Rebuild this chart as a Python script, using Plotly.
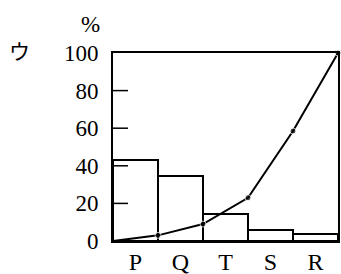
import plotly.graph_objects as go

categories = ["P", "Q", "T", "S", "R"]
bar_values = [43, 34.5, 14.5, 6, 3.8]
cum_values = [0, 3, 9, 23, 58.5, 100]
y_ticks = [0, 20, 40, 60, 80, 100]

W, H = 341, 274
L, R, T, B = 113, 3, 53, 33
pw, ph = W - L - R, H - T - B
TICK_LEN = 15  # px, drawn inside the plot

def px_x(px):
    return (px - L) / pw

def px_y(py):
    return (H - B - py) / ph

bar_x = [i + 0.5 for i in range(len(categories))]
line_x = list(range(len(cum_values)))

fig = go.Figure()
fig.add_trace(go.Bar(
    x=bar_x, y=bar_values, width=1,
    marker=dict(color="white", line=dict(color="black", width=2)),
    showlegend=False, hoverinfo="skip",
))
fig.add_trace(go.Scatter(
    x=line_x, y=cum_values, mode="lines+markers",
    line=dict(color="black", width=2),
    marker=dict(color="black", size=[0, 6, 6, 6, 6, 6]),
    cliponaxis=False, showlegend=False,
))

# inward tick marks on the left axis, one per tick value
for v in y_ticks[1:-1]:
    fig.add_shape(type="line", xref="paper", yref="y",
                  x0=0, x1=TICK_LEN / pw, y0=v, y1=v,
                  line=dict(color="black", width=1.5), layer="above")

yfont = dict(family="Liberation Serif", size=23, color="black")
xfont = dict(family="Liberation Serif", size=24, color="black")

fig.update_layout(
    width=W, height=H,
    margin=dict(l=L, r=R, t=T, b=B, pad=0, autoexpand=False),
    paper_bgcolor="white", plot_bgcolor="white",
    bargap=0,
    font=yfont,
    xaxis=dict(
        range=[0, 5], tickvals=bar_x, ticktext=categories,
        showgrid=False, zeroline=False, showline=True, mirror=True,
        linecolor="black", linewidth=2, ticks="", tickfont=xfont,
        ticklabelstandoff=-2, automargin=False,
    ),
    yaxis=dict(
        range=[0, 100], tickvals=y_ticks,
        showgrid=False, zeroline=False, showline=True, mirror=True,
        linecolor="black", linewidth=2, ticks="", tickfont=yfont,
        ticklabelstandoff=8, automargin=False,
    ),
    annotations=[
        dict(text="%", x=px_x(90), y=px_y(25), xref="paper", yref="paper",
             showarrow=False, xanchor="center", yanchor="middle", font=yfont),
        dict(text="ウ", x=px_x(19), y=px_y(50), xref="paper", yref="paper",
             showarrow=False, xanchor="center", yanchor="middle",
             font=dict(family="Noto Sans CJK JP", size=21, color="black")),
    ],
)

fig.write_html(
    "out.html",
    config={"displayModeBar": False},
    post_script="document.body.style.margin='0';document.body.style.overflow='hidden';",
)
